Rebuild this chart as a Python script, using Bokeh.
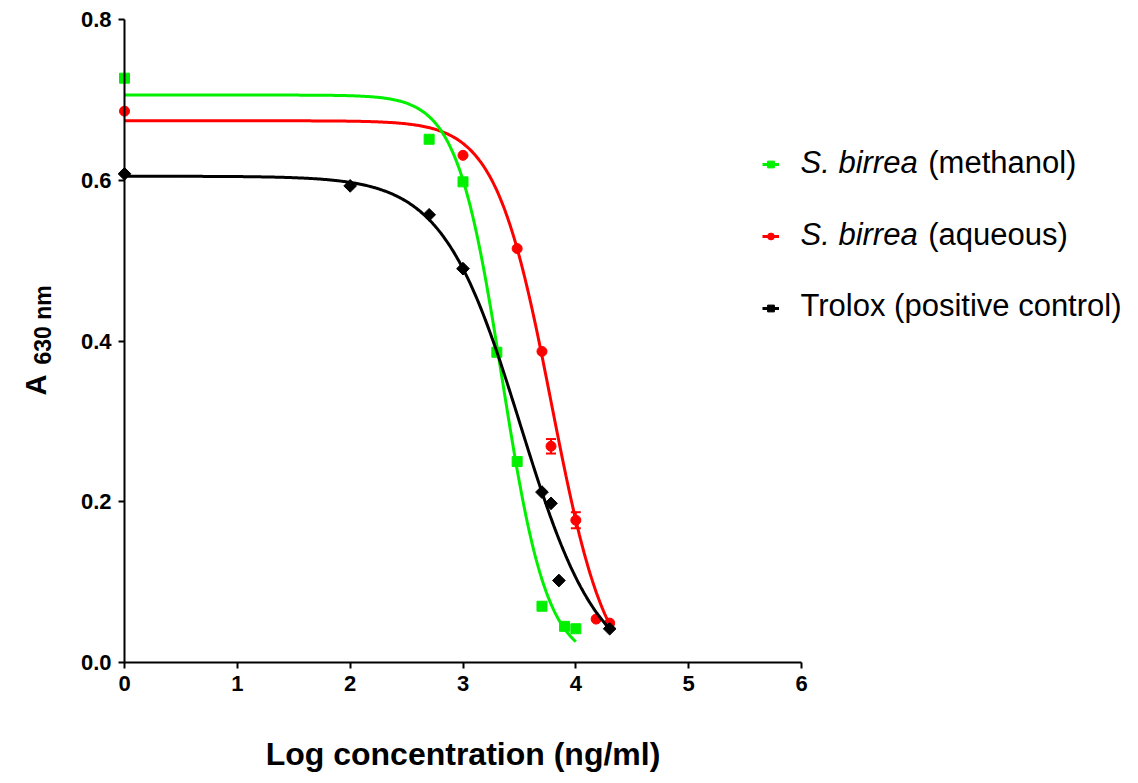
import numpy as np
from bokeh.plotting import figure
from bokeh.models import (Range1d, FixedTicker, Label, Legend, LegendItem, Whisker,
                          TeeHead, ColumnDataSource, PrintfTickFormatter)
from bokeh.embed import file_html
from bokeh.resources import INLINE

# ---------------- data ----------------
meth_x = [0.0, 2.7, 3.0, 3.3, 3.48, 3.7, 3.9, 4.0]
meth_y = [0.727, 0.651, 0.598, 0.386, 0.250, 0.070, 0.045, 0.042]

aq_x = [0.0, 3.0, 3.48, 3.7, 3.78, 4.0, 4.18, 4.3]
aq_y = [0.686, 0.631, 0.515, 0.387, 0.269, 0.177, 0.054, 0.049]
aq_err = [0.0, 0.0, 0.0, 0.0, 0.009, 0.010, 0.0, 0.0]

tr_x = [0.0, 2.0, 2.7, 3.0, 3.7, 3.78, 3.85, 4.3]
tr_y = [0.608, 0.593, 0.557, 0.490, 0.212, 0.198, 0.102, 0.042]

# sigmoidal (4-parameter logistic) fits: top, bottom, logEC50, hill slope, last x
meth_fit = [0.706, 0.0, 3.347, 2.17, 4.0]
aq_fit = [0.674, -0.03, 3.784, 1.76, 4.3]
tr_fit = [0.605, -0.015, 3.510, 1.259, 4.3]

x_ticks = [0, 1, 2, 3, 4, 5, 6]
y_ticks = [0.0, 0.2, 0.4, 0.6, 0.8]

series_names = ["S. birrea", "(methanol)", "S. birrea", "(aqueous)", "Trolox (positive control)"]
x_title = "Log concentration (ng/ml)"
y_title = ["A", "630 nm"]

# ---------------- layout constants ----------------
W, H = 1138, 783
AX_L, AX_R, AX_T, AX_B = 124, 801, 19, 662      # pixel positions of x=0, x=6, y=0.8, y=0
XS = (AX_R - AX_L) / 6.0
YS = (AX_B - AX_T) / 0.8
X0, X1 = -AX_L / XS, (W - AX_L) / XS
Y0, Y1 = -(H - AX_B) / YS, AX_B / YS


def px_x(px):
    return (px - AX_L) / XS


def px_y(py):
    return (AX_B - py) / YS


FONT = "Liberation Sans"
GREEN, RED, BLACK = "#00F000", "#FF0000", "#000000"


def fit_curve(params, n=400):
    top, bottom, ec, hill, xend = params
    xs = np.linspace(0.0, xend, n)
    ys = bottom + (top - bottom) / (1.0 + 10.0 ** ((xs - ec) * hill))
    return xs, ys


p = figure(width=W, height=H, output_backend="svg", toolbar_location=None,
           x_range=Range1d(X0, X1), y_range=Range1d(Y0, Y1),
           min_border_left=0, min_border_right=0, min_border_top=0, min_border_bottom=0)
p.title = None
p.outline_line_color = None
p.grid.visible = False
p.background_fill_color = "white"
p.border_fill_color = "white"

# axes
xa = p.xaxis[0]
ya = p.yaxis[0]
xa.fixed_location = 0
ya.fixed_location = 0
xa.bounds = (0, 6)
ya.bounds = (0, 0.8)
xa.ticker = FixedTicker(ticks=x_ticks)
ya.ticker = FixedTicker(ticks=y_ticks)
ya.formatter = PrintfTickFormatter(format="%.1f")
for ax in (xa, ya):
    ax.axis_line_width = 2
    ax.axis_line_color = "black"
    ax.major_tick_line_width = 2
    ax.major_tick_line_color = "black"
    ax.major_tick_in = 0
    ax.major_tick_out = 6
    ax.minor_tick_line_color = None
    ax.major_label_text_font = FONT
    ax.major_label_text_font_style = "bold"
    ax.major_label_text_font_size = "22px"
    ax.major_label_text_color = "black"
xa.major_label_standoff = 7
ya.major_label_standoff = 7
xa.axis_label = x_title
xa.axis_label_text_font = FONT
xa.axis_label_text_font_style = "bold"
xa.axis_label_text_font_size = "32px"
xa.axis_label_text_color = "black"
xa.axis_label_standoff = 42

# series
renderers = []
for xs, ys, fit, color, marker, size, angle in [
        (aq_x, aq_y, aq_fit, RED, "circle", 10, 0.0),
        (meth_x, meth_y, meth_fit, GREEN, "square", 10, 0.0),
        (tr_x, tr_y, tr_fit, BLACK, "square", 9, np.pi / 4)]:
    cx, cy = fit_curve(fit)
    lr = p.line(cx, cy, line_color=color, line_width=3)
    sr = p.scatter(xs, ys, marker=marker, size=size, angle=angle,
                   fill_color=color, line_color=color)
    renderers.append((lr, sr))
    if color == RED:
        src = ColumnDataSource(dict(
            x=[x for x, e in zip(aq_x, aq_err) if e > 0],
            upper=[y + e for y, e in zip(aq_y, aq_err) if e > 0],
            lower=[y - e for y, e in zip(aq_y, aq_err) if e > 0]))
        p.add_layout(Whisker(source=src, base="x", upper="upper", lower="lower",
                             line_color=RED, line_width=2,
                             upper_head=TeeHead(size=10, line_color=RED, line_width=2),
                             lower_head=TeeHead(size=10, line_color=RED, line_width=2)))

red_r, green_r, black_r = renderers

# legend keys
legend = Legend(items=[LegendItem(label=" ", renderers=list(green_r)),
                       LegendItem(label=" ", renderers=list(red_r)),
                       LegendItem(label=" ", renderers=list(black_r))],
                location=(762, H - 318), padding=0, margin=0, spacing=52,
                glyph_width=17, glyph_height=20, label_height=20, label_width=1,
                label_standoff=0, border_line_color=None, background_fill_alpha=0,
                label_text_font_size="10px")
p.add_layout(legend)

# legend texts
leg_y = [162, 234, 305]
LEG_SIZE = 31
LEG_FS = f"{LEG_SIZE}px"
part2_x = 800 + 4.057 * LEG_SIZE + 2
for (txt, xpx, ypx, style) in [
        (series_names[0], 800, leg_y[0], "italic"),
        (series_names[1], part2_x, leg_y[0], "normal"),
        (series_names[2], 800, leg_y[1], "italic"),
        (series_names[3], part2_x, leg_y[1], "normal"),
        (series_names[4], 800, leg_y[2], "normal")]:
    p.add_layout(Label(x=px_x(xpx), y=px_y(ypx), text=txt, text_font=FONT,
                       text_font_style=style, text_font_size=LEG_FS,
                       text_color="black", text_baseline="middle"))

# y axis title: A with subscript
p.add_layout(Label(x=px_x(35), y=px_y(395), text=y_title[0], angle=np.pi / 2, text_font=FONT,
                   text_font_style="bold", text_font_size="29px", text_color="black",
                   text_align="left", text_baseline="alphabetic"))
p.add_layout(Label(x=px_x(42), y=px_y(364), text=y_title[1], angle=np.pi / 2, text_font=FONT,
                   text_font_style="bold", text_font_size="23px", text_color="black",
                   text_align="left", text_baseline="alphabetic"))

open("out.html", "w").write(file_html(p, INLINE))
